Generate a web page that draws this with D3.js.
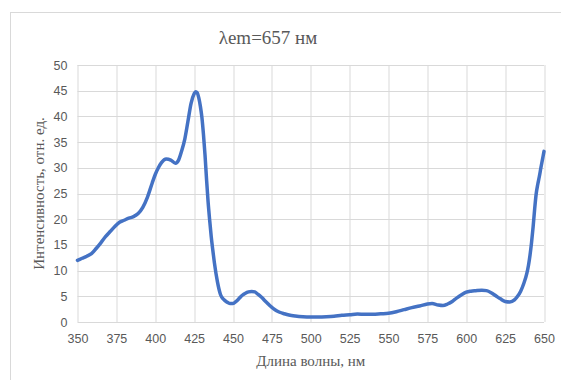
<!DOCTYPE html>
<html>
<head>
<meta charset="utf-8">
<script src="https://cdnjs.cloudflare.com/ajax/libs/d3/7.8.5/d3.min.js"></script>
<style>
  body { margin: 0; background: #fff; }
</style>
</head>
<body>
<div id="chart"></div>
<script>
// spectrum
var wavelength = [350,353,356,359,362,365,368,371,374,377,380,383,386,389,392,395,398,400,402,404,407,410,413,415,417,419,421,423,425,426,427,428,429,430,431,432,433,434,435,436,437,438,440,442,444,446,448,450,452,454,456,458,460,462,464,466,468,470,472,474,476,478,480,483,486,490,495,500,505,510,515,520,525,530,535,540,545,550,555,560,565,570,575,578,582,585,588,591,594,597,600,603,606,610,613,616,619,622,625,628,631,633,635,637,639,640,641,642,643,644,645,646,647,648,649,650]
var intensity = [12.0,12.4,12.8,13.3,14.3,15.4,16.6,17.6,18.6,19.4,19.8,20.2,20.5,21.1,22.3,24.3,27.0,28.7,30.0,31.0,31.7,31.5,30.9,31.5,33.3,35.6,39.0,42.5,44.4,44.8,44.6,43.6,42.0,39.8,36.5,32.5,27.7,23.3,19.8,16.6,14.0,11.6,7.8,5.3,4.4,3.9,3.6,3.6,4.0,4.6,5.2,5.6,5.85,5.95,5.85,5.4,4.9,4.3,3.7,3.1,2.6,2.2,1.9,1.6,1.35,1.15,1.0,0.95,0.95,1.0,1.1,1.3,1.4,1.55,1.5,1.5,1.6,1.7,2.0,2.4,2.8,3.1,3.5,3.6,3.3,3.2,3.5,4.0,4.7,5.3,5.8,6.0,6.1,6.2,6.1,5.7,5.1,4.5,4.0,3.9,4.3,5.0,6.0,7.5,9.5,11.0,13.0,15.5,18.5,22.0,25.0,26.8,28.3,30.0,31.6,33.2]
var xTicks = [350,375,400,425,450,475,500,525,550,575,600,625,650]
var yTicks = [0,5,10,15,20,25,30,35,40,45,50]

var title = "λem=657 нм"
var xTitle = "Длина волны, нм"
var yTitle = "Интенсивность, отн. ед."

var serif = "'Liberation Serif'"

var W = 561, H = 380
var margin = { top: 65, right: 17, bottom: 58, left: 77.5 }
var width = W - margin.left - margin.right,
    height = H - margin.top - margin.bottom

var svg = d3.select("#chart").append("svg")
  .attr("width", W)
  .attr("height", H)

// chart frame (runs off the right and bottom edge)
svg.append("rect")
  .attr("x", 10.5).attr("y", 12.5)
  .attr("width", 600).attr("height", 400)
  .attr("fill", "none")
  .attr("stroke", "#d9d9d9")

var g = svg.append("g")
  .attr("transform", "translate(" + margin.left + "," + margin.top + ")")

var x = d3.scaleLinear().domain([350, 650]).range([0, width])
var y = d3.scaleLinear().domain([0, 50]).range([height, 0])

// grid
g.append("g")
  .selectAll("line")
  .data(yTicks)
  .enter().append("line")
  .attr("x1", 0).attr("x2", width)
  .attr("y1", d => Math.round(y(d)) + 0.5).attr("y2", d => Math.round(y(d)) + 0.5)
  .attr("stroke", "#d9d9d9")

g.append("g")
  .selectAll("line")
  .data(xTicks)
  .enter().append("line")
  .attr("y1", 0).attr("y2", height)
  .attr("x1", d => Math.round(x(d)) + 0.5).attr("x2", d => Math.round(x(d)) + 0.5)
  .attr("stroke", "#d9d9d9")

// axes (labels only)
var xAxis = d3.axisBottom(x).tickValues(xTicks).tickSize(0).tickPadding(12)
g.append("g")
  .attr("class", "axis x-axis")
  .attr("transform", "translate(0," + height + ")")
  .call(xAxis)

var yAxis = d3.axisLeft(y).tickValues(yTicks).tickSize(0).tickPadding(10)
g.append("g")
  .attr("class", "axis y-axis")
  .call(yAxis)

g.selectAll(".axis .domain").remove()
g.selectAll(".axis").attr("font-family", "'Liberation Sans', Arial, sans-serif").attr("font-size", 12.5)
g.selectAll(".axis text").attr("fill", "#595959")

// the spectrum
var line = d3.line()
  .x((d, i) => x(wavelength[i]))
  .y(d => y(d))
  .curve(d3.curveMonotoneX)

g.append("path")
  .datum(intensity)
  .attr("d", line)
  .attr("fill", "none")
  .attr("stroke", "#4472c4")
  .attr("stroke-width", 3.5)
  .attr("stroke-linejoin", "round")
  .attr("stroke-linecap", "round")

// titles
svg.append("text")
  .attr("x", 268).attr("y", 44)
  .attr("text-anchor", "middle")
  .attr("fill", "#595959")
  .style("font-family", serif)
  .style("font-size", "19px")
  .text(title)

svg.append("text")
  .attr("x", margin.left + width / 2).attr("y", 366)
  .attr("text-anchor", "middle")
  .attr("fill", "#595959")
  .style("font-family", serif)
  .style("font-size", "15px")
  .text(xTitle)

svg.append("text")
  .attr("transform", "translate(44," + (margin.top + height / 2) + ") rotate(-90)")
  .attr("text-anchor", "middle")
  .attr("fill", "#595959")
  .style("font-family", serif)
  .style("font-size", "15px")
  .text(yTitle)
</script>
</body>
</html>
